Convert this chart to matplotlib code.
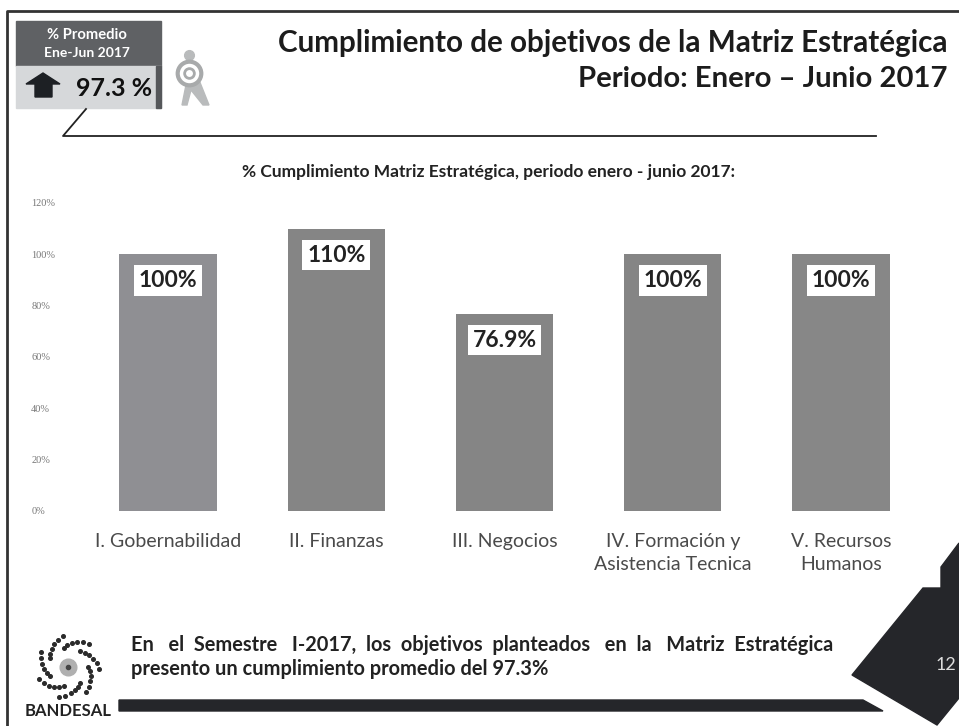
#
# Cumplimiento de objetivos - Matriz Estrategica
#
import math
import matplotlib
matplotlib.use('Agg')
from matplotlib import pyplot as plt
from matplotlib.patches import Polygon, Rectangle
#
categories = ['I. Gobernabilidad', 'II. Finanzas', 'III. Negocios',
              'IV. Formación y\nAsistencia Tecnica', 'V. Recursos\nHumanos']
values = [100, 110, 76.9, 100, 100]
value_labels = ['100%', '110%', '76.9%', '100%', '100%']
bar_colors = ['#8f8f93', '#858585', '#858585', '#858585', '#878787']
y_ticks = [0, 20, 40, 60, 80, 100, 120]
y_tick_labels = ['0%', '20%', '40%', '60%', '80%', '100%', '120%']
#
W, H = 959, 726
plt.rcParams['font.family'] = ['Lato', 'DejaVu Sans']
DARK = '#25262a'
#
fig = plt.figure(figsize = (W / 100, H / 100), dpi = 100, facecolor = 'white')
#
# Overlay in pixel coordinates for the slide decoration
bg = fig.add_axes([0, 0, 1, 1])
bg.set_xlim(0, W)
bg.set_ylim(H, 0)
bg.axis('off')
#
# Slide frame
bg.plot([7, 7, 959], [726, 11, 11], color = '#333333', lw = 2)
#
# Badge
bg.add_patch(Rectangle((16, 21), 145, 45, color = '#5f6164'))
bg.add_patch(Rectangle((16, 66), 145, 42, color = '#d6d8da'))
bg.add_patch(Rectangle((156, 66), 5, 42, color = '#55575a'))
bg.text(87, 35, '% Promedio', color = 'white', fontsize = 10.6, weight = 'bold',
        ha = 'center', va = 'center')
bg.text(87, 53, 'Ene-Jun 2017', color = 'white', fontsize = 10, weight = 'bold',
        ha = 'center', va = 'center')
bg.text(114, 89, '97.3 %', color = '#111111', fontsize = 18, weight = 'bold',
        ha = 'center', va = 'center')
bg.add_patch(Polygon([(26, 84), (43, 73), (60, 84), (52, 84), (52, 97), (35, 97), (35, 84)],
                     color = '#1d2024'))
#
# Target figure
bg.add_patch(Polygon([(183, 75), (197, 75), (209, 105), (203, 105), (191, 90), (187, 105),
                      (182, 105), (186, 85)], color = '#b9bbbc'))
bg.plot([189], [55], marker = 'o', ms = 7, color = '#b9bbbc')
bg.plot([189], [73], marker = 'o', ms = 17, mfc = 'white', mec = '#a8aaab', mew = 3)
bg.plot([189], [73], marker = 'o', ms = 7, mfc = 'white', mec = '#a8aaab', mew = 2)
#
# Title
bg.text(948, 43, 'Cumplimiento de objetivos de la Matriz Estratégica', fontsize = 21.3,
        weight = 'bold', color = '#1c1c1c', ha = 'right', va = 'center')
bg.text(948, 79, 'Periodo: Enero – Junio 2017', fontsize = 21.1, weight = 'bold',
        color = '#1c1c1c', ha = 'right', va = 'center')
bg.plot([86, 63, 876], [109, 136, 136], color = '#222222', lw = 1.3)
#
bg.text(489, 172, '% Cumplimiento Matriz Estratégica, periodo enero - junio 2017:',
        fontsize = 12.5, weight = 'bold', color = '#222222', ha = 'center', va = 'center')
#
# Bottom note
bg.text(131, 645, 'En   el  Semestre   I-2017,  los  objetivos  planteados   en  la   Matriz  Estratégica',
        fontsize = 14.4, weight = 'bold', color = '#222222', va = 'center')
bg.text(131, 669, 'presento un cumplimiento promedio del 97.3%', fontsize = 14.4,
        weight = 'bold', color = '#222222', va = 'center')
#
# Bottom rule and page corner
bg.add_patch(Polygon([(119, 700), (863, 700), (883, 711), (119, 711)], color = DARK))
bg.add_patch(Polygon([(959, 543), (941, 567), (941, 588), (923, 588), (852, 675),
                      (937, 725), (959, 698)], color = DARK))
bg.text(956, 665, '12', color = '#dddddd', fontsize = 13, ha = 'right', va = 'center')
#
# Logo: dotted spiral arms around a grey core
for arm in range(7):
    for j in range(6):
        r = 20 + j * 2.2
        th = math.radians(arm * 360 / 7 + j * 11)
        bg.plot([68 + r * math.cos(th)], [667 + r * math.sin(th)], marker = 'o',
                ms = 2.6, color = '#2a2a2a')
bg.plot([68], [667], marker = 'o', ms = 12, color = '#b0b0b0')
bg.plot([68], [667], marker = 'o', ms = 3, color = '#444444')
bg.text(68, 711, 'BANDESAL', fontsize = 12, weight = 'bold', color = '#222222',
        ha = 'center', va = 'center')
#
# Bar chart
x0, x1, ytop, ybot = 84, 925, 203, 511
ax = fig.add_axes([x0 / W, 1 - ybot / H, (x1 - x0) / W, (ybot - ytop) / H])
ax.patch.set_alpha(0)
pos = range(len(values))
ax.bar(pos, values, width = 0.58, color = bar_colors)
ax.set_xlim(-0.5, 4.5)
ax.set_ylim(0, 120)
ax.set_yticks(y_ticks)
ax.set_yticklabels(y_tick_labels, fontsize = 7.5, color = '#777777',
                   family = 'Liberation Serif', ha = 'left')
ax.set_xticks(list(pos))
ax.set_xticklabels(categories, fontsize = 14, color = '#4a4a4a', linespacing = 1.44)
ax.tick_params(length = 0)
ax.tick_params(axis = 'y', pad = 38)
ax.tick_params(axis = 'x', pad = 16)
for s in ax.spines.values():
    s.set_visible(False)
#
for i in pos:
    ax.text(i, values[i] - 10.3, value_labels[i], fontsize = 16.5, weight = 'bold',
            color = '#222222', ha = 'center', va = 'center',
            bbox = dict(fc = 'white', ec = 'none', pad = 3.5))
#
fig.savefig('out.png', dpi = 100)
